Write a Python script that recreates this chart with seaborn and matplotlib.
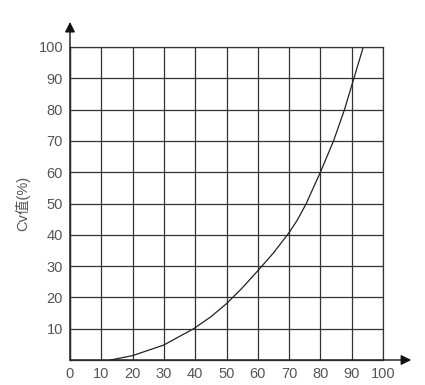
import matplotlib
matplotlib.use("Agg")
import matplotlib.pyplot as plt
import seaborn as sns
import pandas as pd

# Data
opening = [13, 20, 30, 39.5, 45, 50, 55, 60, 65, 70, 72.5, 75.5, 77.5, 80, 84.2, 87.7, 90.7, 93.7]
cv_value = [0, 1.4, 4.8, 10, 13.8, 18, 23, 28.5, 34.2, 40.7, 44.5, 50, 54.5, 60, 70, 80, 90, 100]
x_ticks = [0, 10, 20, 30, 40, 50, 60, 70, 80, 90, 100]
y_ticks = [10, 20, 30, 40, 50, 60, 70, 80, 90, 100]
y_label = "Cv值(%)"

sns.set_theme(style="white")
plt.rcParams['font.family'] = ['Liberation Sans', 'Noto Sans CJK SC', 'DejaVu Sans']

fig = plt.figure(figsize=(4.25, 3.85), dpi=100)
ax = fig.add_axes([70/425, 1-360/385, 313/425, 313/385])

df = pd.DataFrame({"x": opening, "y": cv_value})
sns.lineplot(data=df, x="x", y="y", ax=ax, color="#222222", linewidth=0.9, sort=False, estimator=None)

ax.set_xlim(0, 100)
ax.set_ylim(0, 100)
ax.set_xticks(x_ticks)
ax.set_yticks(y_ticks)
ax.set_xticklabels([str(t) for t in x_ticks])
ax.set_yticklabels([str(t) for t in y_ticks])
ax.tick_params(axis='both', length=0, labelsize=10.5, labelcolor="#555555", pad=5)

ax.grid(True, color="#333333", linewidth=0.9)
ax.set_axisbelow(True)
for s in ["top", "right"]:
    ax.spines[s].set_color("#333333")
    ax.spines[s].set_linewidth(0.9)
for s in ["left", "bottom"]:
    ax.spines[s].set_color("#666666")
    ax.spines[s].set_linewidth(1.0)

ax.set_xlabel("")
ax.set_ylabel(y_label, fontsize=10.5, color="#555555")
ax.yaxis.set_label_coords(-0.128, 0.5)

ax.annotate('', xy=(1.09, 0), xytext=(0.0, 0), xycoords='axes fraction',
            arrowprops=dict(arrowstyle='-|>', color='#111111', lw=1.0, mutation_scale=15, shrinkA=0, shrinkB=0),
            annotation_clip=False)
ax.annotate('', xy=(0, 1.08), xytext=(0, 0.0), xycoords='axes fraction',
            arrowprops=dict(arrowstyle='-|>', color='#111111', lw=1.0, mutation_scale=15, shrinkA=0, shrinkB=0),
            annotation_clip=False)

fig.savefig("out.png", dpi=100, facecolor="white")
